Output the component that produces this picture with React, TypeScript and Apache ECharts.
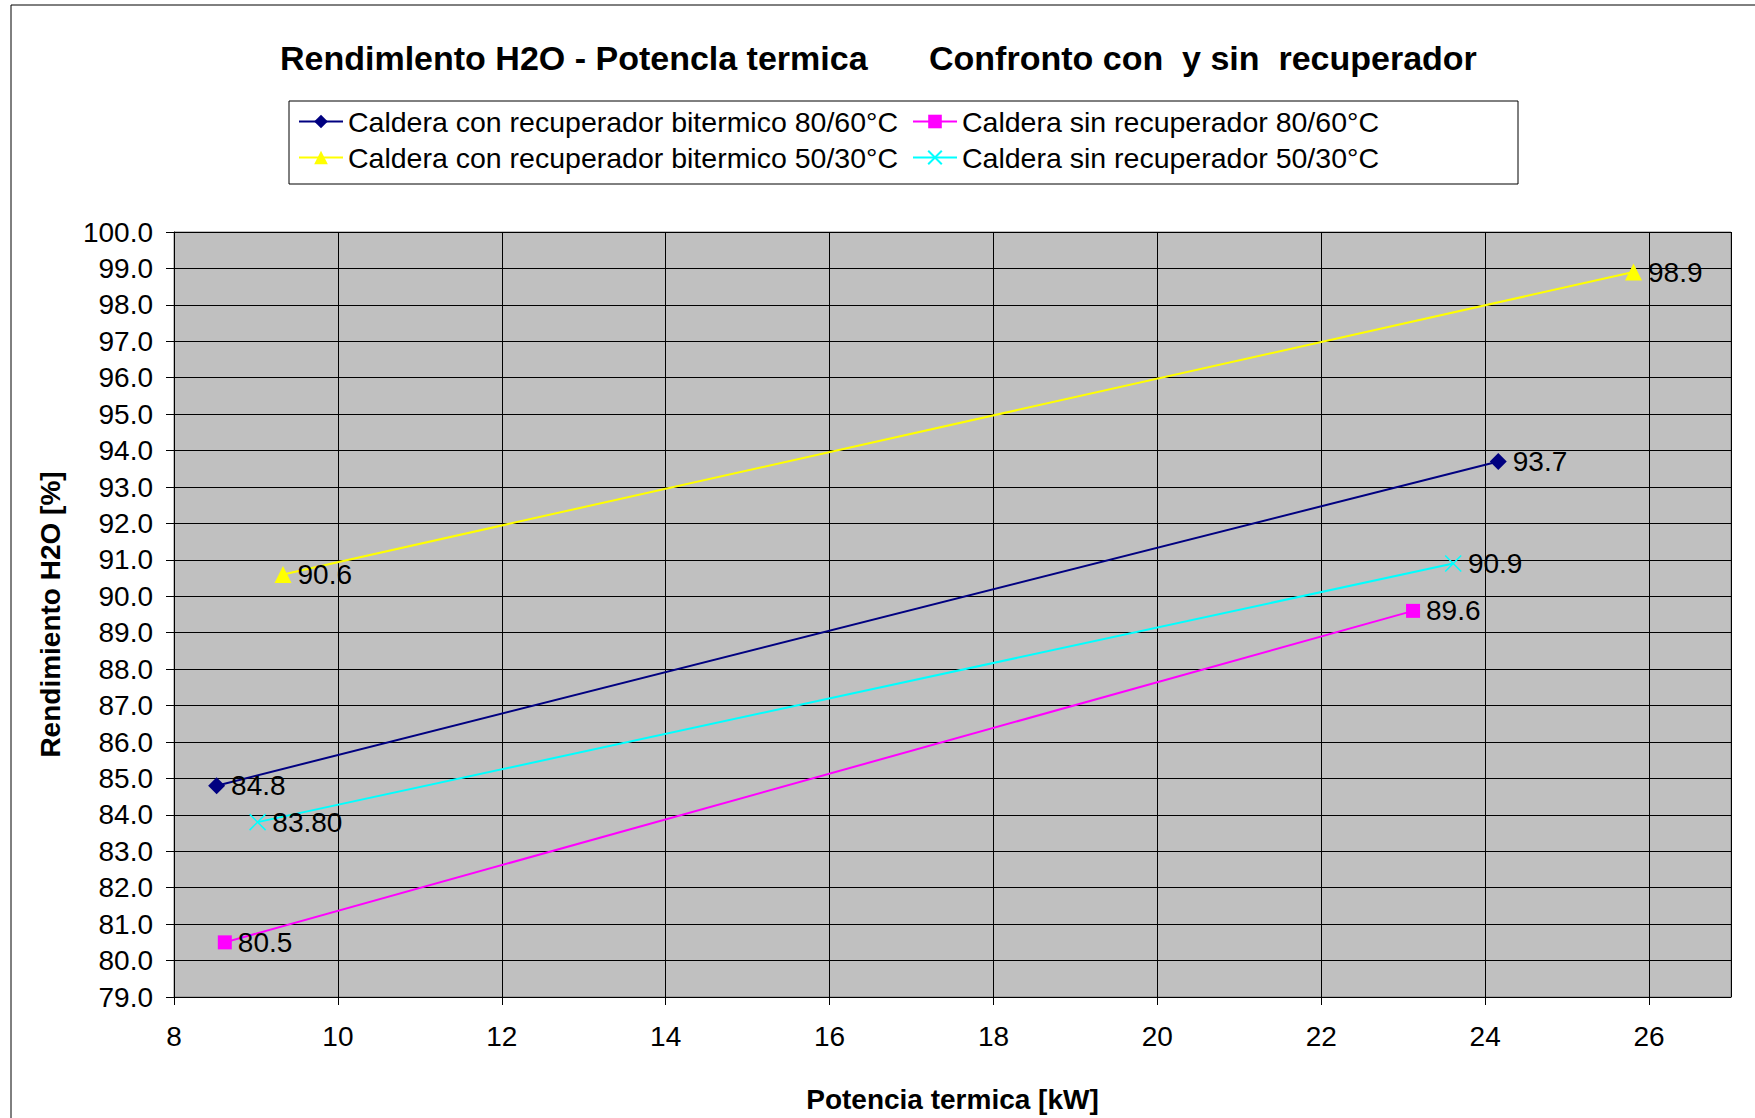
import React, { useEffect, useRef } from 'react';
import * as echarts from 'echarts';

const FONT = "'Liberation Sans', Arial, sans-serif";

const seriesNames = [
  'Caldera con recuperador bitermico 80/60°C',
  'Caldera sin recuperador 80/60°C',
  'Caldera con recuperador bitermico 50/30°C',
  'Caldera sin recuperador 50/30°C',
];

const navyX = [8.52, 24.16];
const navyY = [84.8, 93.7];
const navyLabels = ['84.8', '93.7'];

const magentaX = [8.62, 23.12];
const magentaY = [80.5, 89.6];
const magentaLabels = ['80.5', '89.6'];

const yellowX = [9.33, 25.81];
const yellowY = [90.6, 98.9];
const yellowLabels = ['90.6', '98.9'];

const cyanX = [9.02, 23.61];
const cyanY = [83.8, 90.9];
const cyanLabels = ['83.80', '90.9'];

const titleLeft = 'Rendimlento H2O - Potencla termica';
const titleRight = 'Confronto con  y sin  recuperador';
const xName = 'Potencia termica [kW]';
const yName = 'Rendimiento H2O [%]';

function pairs(xs: number[], ys: number[]) {
  return xs.map((x, i) => [x, ys[i]]);
}

function makeSeries(
  name: string,
  xs: number[],
  ys: number[],
  labels: string[],
  color: string,
  symbol: string,
  symbolSize: number,
  extraItem: any = {}
) {
  return {
    name,
    type: 'line',
    data: pairs(xs, ys),
    symbol,
    symbolSize,
    showAllSymbol: true,
    lineStyle: { color, width: 2 },
    itemStyle: { color, ...extraItem },
    label: {
      show: true,
      position: 'right',
      distance: 6,
      fontSize: 28,
      fontFamily: FONT,
      color: '#000',
      formatter: (p: any) => labels[p.dataIndex],
    },
    emphasis: { disabled: true },
    z: 3,
  };
}

function leg(name: string, left: number, top: number) {
  return {
    data: [name],
    left,
    top,
    padding: 0,
    itemWidth: 44,
    itemHeight: 17,
    itemGap: 0,
    selectedMode: false,
    textStyle: { fontSize: 28.5, fontFamily: FONT, color: '#000', padding: [0, 0, 0, 0] },
  };
}

export default function App() {
  const ref = useRef<HTMLDivElement>(null);
  useEffect(() => {
    const chart = echarts.init(ref.current!, null, { renderer: 'svg' });
    const option: any = {
      animation: false,
      backgroundColor: '#fff',
      textStyle: { fontFamily: FONT },
      title: [
        {
          text: titleLeft,
          left: 280,
          top: 41,
          padding: 0,
          textStyle: { fontSize: 34, fontWeight: 'bold', fontFamily: FONT, color: '#000' },
        },
        {
          text: titleRight,
          left: 929,
          top: 41,
          padding: 0,
          textStyle: { fontSize: 34, fontWeight: 'bold', fontFamily: FONT, color: '#000' },
        },
      ],
      legend: [
        leg(seriesNames[0], 298, 107),
        leg(seriesNames[1], 912, 107),
        leg(seriesNames[2], 298, 143),
        leg(seriesNames[3], 912, 143),
      ],
      graphic: [
        {
          type: 'rect',
          shape: { x: 11, y: 5, width: 1900, height: 1300 },
          style: { fill: 'none', stroke: '#000', lineWidth: 1 },
          silent: true,
          z: -10,
        },
        {
          type: 'rect',
          shape: { x: 289, y: 101, width: 1229, height: 83 },
          style: { fill: '#fff', stroke: '#000', lineWidth: 1 },
          silent: true,
          z: -5,
        },
      ],
      grid: {
        left: 174,
        top: 232,
        right: 24,
        bottom: 121,
        show: true,
        backgroundColor: '#c0c0c0',
        borderColor: '#808080',
        borderWidth: 1,
        containLabel: false,
        outerBoundsMode: 'none',
      },
      xAxis: {
        type: 'value',
        min: 8,
        max: 27,
        interval: 2,
        name: xName,
        nameLocation: 'middle',
        nameGap: 88,
        nameTextStyle: { fontSize: 28, fontWeight: 'bold', fontFamily: FONT, color: '#000' },
        axisLine: { show: true, onZero: false, lineStyle: { color: '#000', width: 1 } },
        axisTick: { show: true, inside: false, length: 8, lineStyle: { color: '#000' } },
        axisLabel: { fontSize: 28, fontFamily: FONT, color: '#000', margin: 25, showMaxLabel: false },
        splitLine: { show: true, lineStyle: { color: '#000', width: 1 } },
      },
      yAxis: {
        type: 'value',
        min: 79,
        max: 100,
        interval: 1,
        name: yName,
        nameLocation: 'middle',
        nameRotate: 90,
        nameGap: 110,
        nameTextStyle: { fontSize: 28, fontWeight: 'bold', fontFamily: FONT, color: '#000' },
        axisLine: { show: true, onZero: false, lineStyle: { color: '#000', width: 1 } },
        axisTick: { show: true, inside: false, length: 8, lineStyle: { color: '#000' } },
        axisLabel: {
          fontSize: 28,
          fontFamily: FONT,
          color: '#000',
          margin: 21,
          formatter: (v: number) => v.toFixed(1),
        },
        splitLine: { show: true, lineStyle: { color: '#000', width: 1 } },
      },
      series: [
        makeSeries(seriesNames[0], navyX, navyY, navyLabels, '#000080', 'diamond', 17),
        makeSeries(seriesNames[1], magentaX, magentaY, magentaLabels, '#ff00ff', 'rect', 14),
        makeSeries(seriesNames[2], yellowX, yellowY, yellowLabels, '#ffff00', 'triangle', 17),
        makeSeries(seriesNames[3], cyanX, cyanY, cyanLabels, '#00ffff', 'path://M0,0L10,10M10,0L0,10', 16, {
          borderColor: '#00ffff',
          borderWidth: 1.5,
        }),
      ],
    };
    chart.setOption(option);
    return () => chart.dispose();
  }, []);
  return (
    <div
      ref={ref}
      style={{ position: 'absolute', left: 0, top: 0, width: 1755, height: 1118, background: '#fff' }}
    />
  );
}
